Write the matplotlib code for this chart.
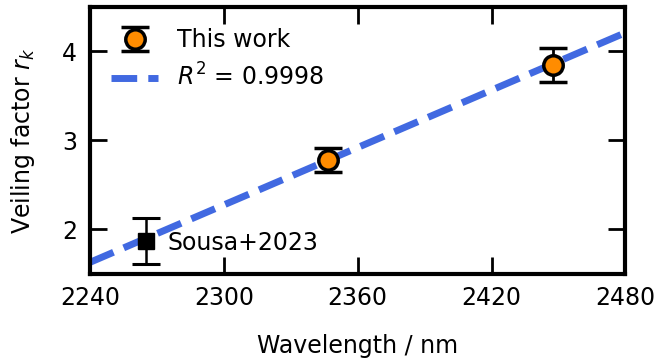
import numpy as np
import matplotlib
matplotlib.use("Agg")
import matplotlib.pyplot as plt

# this work
wl = [2346.5, 2447.5]
rk = [2.78, 3.85]
rk_err = [0.13, 0.19]

# literature
sousa_wl = 2265
sousa_rk = 1.87
sousa_err = 0.26

# linear fit
slope = 0.01075
intercept = 1.63 - slope * 2240

plt.rcParams['font.size'] = 17

fig, ax = plt.subplots(figsize=(6.56, 3.6), dpi=100)

xx = np.array([2240, 2480])
ax.plot(xx, slope * xx + intercept, ls='--', c='royalblue', lw=5,
        label=r'$R^2$ = 0.9998', zorder=1)
ax.errorbar(wl, rk, yerr=rk_err, fmt='o', mfc='darkorange', mec='black',
            mew=2.5, ms=14, ecolor='black', elinewidth=2, capsize=10,
            capthick=2.2, label='This work', zorder=3)
ax.errorbar(sousa_wl, sousa_rk, yerr=sousa_err, fmt='s', c='black', ms=12,
            elinewidth=1.8, capsize=10, capthick=2.2, zorder=3)
ax.text(sousa_wl + 10, sousa_rk - 0.02, 'Sousa+2023', va='center')

ax.set_xlim(2240, 2480)
ax.set_ylim(1.5, 4.5)
ax.set_xticks([2240, 2300, 2360, 2420, 2480])
ax.set_yticks([2, 3, 4])
ax.set_xlabel('Wavelength / nm', labelpad=17)
ax.set_ylabel('Veiling factor $r_k$', labelpad=18)
ax.tick_params(direction='in', length=12, width=2, top=True, right=True, pad=9)
for s in ax.spines.values():
    s.set_linewidth(3)

handles, labels = ax.get_legend_handles_labels()
ax.legend(handles[::-1], labels[::-1], loc='upper left', frameon=False)

fig.subplots_adjust(left=0.137, right=0.9535, top=0.981, bottom=0.239)
fig.savefig('out.png')
